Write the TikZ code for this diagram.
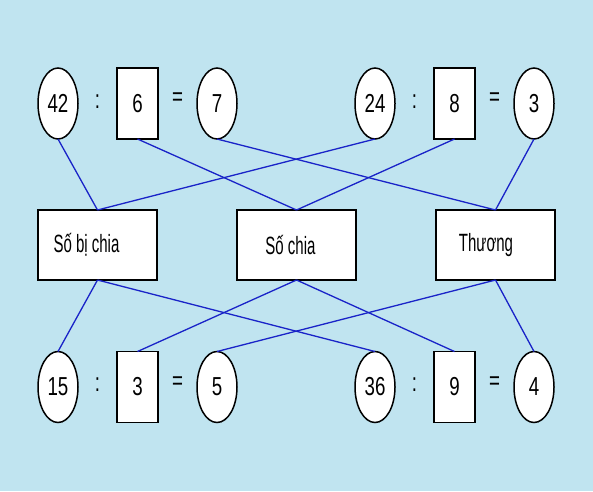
\documentclass[tikz,border=0pt]{standalone}
\usepackage{fontspec}
\setmainfont{Liberation Sans}[FakeStretch=0.72]
\newfontfamily\wordfont{Liberation Sans}[FakeStretch=0.6]
\usetikzlibrary{positioning, shapes.geometric, calc}
\definecolor{skyback}{RGB}{192,228,240}
\definecolor{linkblue}{RGB}{25,35,200}

\begin{document}
\begin{tikzpicture}[
		x=1pt, y=-1pt,
		node distance=39pt,
		every node/.style={font=\fontsize{26}{28}\selectfont, outer sep=0pt},
		num/.style={ellipse, draw, line width=1.5pt, fill=white, minimum width=40pt, minimum height=71pt, inner sep=0pt},
		divbox/.style={rectangle, draw, line width=1.5pt, fill=white, minimum width=41pt, minimum height=71pt, inner sep=0pt},
		namebox/.style={rectangle, draw, line width=1.5pt, fill=white, minimum width=119pt, minimum height=70pt, font=\wordfont\fontsize{25}{27}\selectfont},
		sign/.style={inner sep=0pt},
		link/.style={linkblue, line width=1.3pt}
		]
		
		% background
		\fill[skyback] (0,0) rectangle (593,491);
		
		% top row
		\node[num] at (58,103.5) (n42) {42};
		\node[divbox, right= of n42] (d6) {6};
		\node[num, right= of d6] (q7) {7};
		\node[num, right= of q7, xshift = 79pt] (n24) {24};
		\node[divbox, right= of n24] (d8) {8};
		\node[num, right= of d8] (q3) {3};
		\node[sign, yshift = 2pt] at ($(n42.east)!.5!(d6.west)$) (c1) {:};
		\node[sign, yshift = 4pt] at ($(d6.east)!.5!(q7.west)$) (e1) {=};
		\node[sign, yshift = 2pt] at ($(n24.east)!.5!(d8.west)$) (c2) {:};
		\node[sign, yshift = 4pt] at ($(d8.east)!.5!(q3.west)$) (e2) {=};
		
		% names (text sits a bit left of centre)
		\node[namebox] at (97.5,245) (sbc) {Số bị chia\kern22pt};
		\node[namebox, right= of sbc, xshift = 41pt] (sc) {Số chia\kern12pt};
		\node[namebox, right= of sc, xshift = 41pt] (thuong) {Thương\kern19pt};
		
		% bottom row
		\node[num] at (58,387) (n15) {15};
		\node[divbox, right= of n15] (d3) {3};
		\node[num, right= of d3] (q5) {5};
		\node[num, right= of q5, xshift = 79pt] (n36) {36};
		\node[divbox, right= of n36] (d9) {9};
		\node[num, right= of d9] (q4) {4};
		\node[sign, yshift = 2pt] at ($(n15.east)!.5!(d3.west)$) (c3) {:};
		\node[sign, yshift = 4pt] at ($(d3.east)!.5!(q5.west)$) (e3) {=};
		\node[sign, yshift = 2pt] at ($(n36.east)!.5!(d9.west)$) (c4) {:};
		\node[sign, yshift = 4pt] at ($(d9.east)!.5!(q4.west)$) (e4) {=};
		
		% links
		\draw[link] (n42.south) -- (sbc.north);
		\draw[link] (n24.south) -- (sbc.north);
		\draw[link] (d6.south) -- (sc.north);
		\draw[link] (d8.south) -- (sc.north);
		\draw[link] (q7.south) -- (thuong.north);
		\draw[link] (q3.south) -- (thuong.north);
		\draw[link] (sbc.south) -- (n15.north);
		\draw[link] (sbc.south) -- (n36.north);
		\draw[link] (sc.south) -- (d3.north);
		\draw[link] (sc.south) -- (d9.north);
		\draw[link] (thuong.south) -- (q5.north);
		\draw[link] (thuong.south) -- (q4.north);
		
	\end{tikzpicture}
\end{document}
